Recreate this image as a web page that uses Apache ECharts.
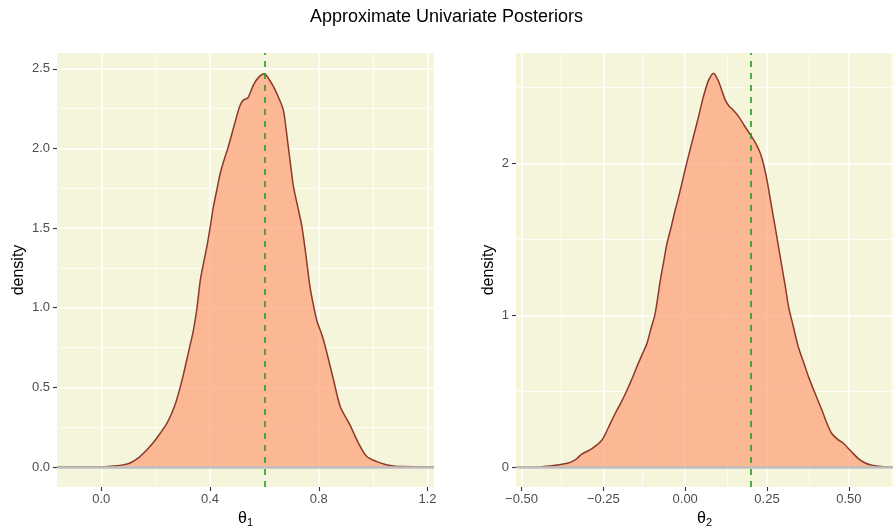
<!DOCTYPE html>
<html>
<head>
<meta charset="utf-8">
<script src="https://cdn.jsdelivr.net/npm/echarts@6/dist/echarts.min.js"></script>
<style>
  html, body { margin: 0; padding: 0; background: #fff; }
  #chart { width: 893px; height: 527px; }
</style>
</head>
<body>
<div id="chart"></div>
<script>
// theta_1 posterior density
const theta1X = [-0.163, 0.0, 0.045, 0.08, 0.106, 0.135, 0.167, 0.19, 0.216, 0.24, 0.259, 0.275, 0.29, 0.302,
  0.314, 0.326, 0.339, 0.352, 0.364, 0.376, 0.388, 0.4, 0.412, 0.425, 0.437, 0.452, 0.467, 0.488, 0.508, 0.52,
  0.529, 0.54, 0.56, 0.58, 0.6, 0.615, 0.633, 0.655, 0.67, 0.68, 0.688, 0.697, 0.707, 0.722, 0.738, 0.752,
  0.768, 0.78, 0.793, 0.817, 0.854, 0.879, 0.913, 0.946, 0.977, 1.014, 1.045, 1.075, 1.1, 1.224]
const theta1Density = [0, 0, 0.006, 0.013, 0.025, 0.055, 0.107, 0.15, 0.21, 0.27, 0.337, 0.41, 0.5, 0.58,
  0.67, 0.76, 0.86, 1.0, 1.17, 1.28, 1.38, 1.5, 1.63, 1.74, 1.84, 1.93, 2.01, 2.14, 2.26, 2.3,
  2.31, 2.32, 2.4, 2.45, 2.47, 2.44, 2.39, 2.31, 2.24, 2.12, 2.01, 1.89, 1.76, 1.64, 1.51, 1.34,
  1.13, 1.02, 0.92, 0.8, 0.55, 0.38, 0.27, 0.15, 0.065, 0.033, 0.015, 0.006, 0.002, 0]

// theta_2 posterior density
const theta2X = [-0.517, -0.448, -0.397, -0.357, -0.335, -0.316, -0.285, -0.255, -0.235, -0.214, -0.195,
  -0.178, -0.163, -0.148, -0.132, -0.117, -0.105, -0.092, -0.076, -0.066, -0.056, -0.043, -0.031, -0.02,
  -0.01, 0.002, 0.015, 0.028, 0.041, 0.051, 0.061, 0.072, 0.0866, 0.1, 0.112, 0.122, 0.133, 0.143, 0.163,
  0.182, 0.202, 0.216, 0.229, 0.24, 0.25, 0.262, 0.275, 0.29, 0.306, 0.316, 0.33, 0.346, 0.362, 0.377,
  0.398, 0.418, 0.433, 0.448, 0.465, 0.484, 0.509, 0.53, 0.55, 0.57, 0.591, 0.635]
const theta2Density = [0, 0.002, 0.013, 0.028, 0.05, 0.086, 0.123, 0.178, 0.26, 0.354, 0.43,
  0.507, 0.58, 0.66, 0.74, 0.815, 0.91, 1.01, 1.23, 1.35, 1.47, 1.58, 1.69, 1.78,
  1.87, 1.98, 2.09, 2.2, 2.31, 2.4, 2.48, 2.55, 2.594, 2.55, 2.48, 2.42, 2.38, 2.36, 2.31,
  2.245, 2.18, 2.13, 2.07, 1.99, 1.89, 1.74, 1.58, 1.39, 1.19, 1.056, 0.93, 0.79, 0.69, 0.595,
  0.48, 0.375, 0.29, 0.222, 0.185, 0.156, 0.1, 0.055, 0.028, 0.014, 0.007, 0]

// true parameter values (dashed lines)
const trueValues = [0.6, 0.2]

// axis ranges and breaks
const xRange1 = [-0.163, 1.224]
const yRange1 = [-0.126, 2.6]
const xRange2 = [-0.517, 0.635]
const yRange2 = [-0.13, 2.727]
const xBreaks1 = [0.0, 0.4, 0.8, 1.2]
const xMinor1 = [0.2, 0.6, 1.0]
const yBreaks1 = [0.0, 0.5, 1.0, 1.5, 2.0, 2.5]
const yMinor1 = [0.25, 0.75, 1.25, 1.75, 2.25]
const xBreaks2 = [-0.5, -0.25, 0, 0.25, 0.5]
const xMinor2 = [-0.375, -0.125, 0.125, 0.375, 0.625]
const yBreaks2 = [0, 1, 2]
const yMinor2 = [0.5, 1.5, 2.5]

const tickColor = '#4d4d4d'
const panelFill = '#f5f5dc'

function xAxisOf(idx, range, breaks, fmt, sub) {
  return {
    type: 'value', gridIndex: idx, min: range[0], max: range[1],
    axisLine: {show: true, onZero: false, lineStyle: {color: 'rgba(0,0,0,0)', width: 0}},
    splitLine: {show: false},
    axisTick: {show: true, customValues: breaks, length: 4, lineStyle: {color: '#333', width: 1.1}},
    axisLabel: {customValues: breaks, color: tickColor, fontSize: 13, margin: 6, formatter: fmt,
      fontFamily: 'Liberation Sans'},
    name: '{t|θ}{s|' + sub + '}', nameLocation: 'middle', nameGap: 22,
    nameTextStyle: {rich: {
      t: {fontSize: 16, color: '#000', fontFamily: 'Liberation Sans'},
      s: {fontSize: 11, color: '#000', fontFamily: 'Liberation Sans', verticalAlign: 'bottom', padding: [8, 0, 0, 0]}
    }}
  }
}

function yAxisOf(idx, range, breaks, fmt, gap) {
  return {
    type: 'value', gridIndex: idx, min: range[0], max: range[1],
    axisLine: {show: true, onZero: false, lineStyle: {color: 'rgba(0,0,0,0)', width: 0}},
    splitLine: {show: false},
    axisTick: {show: true, customValues: breaks, length: 4, lineStyle: {color: '#333', width: 1.1}},
    axisLabel: {customValues: breaks, color: tickColor, fontSize: 13, margin: 7, formatter: fmt,
      fontFamily: 'Liberation Sans'},
    name: 'density', nameLocation: 'middle', nameGap: gap, nameRotate: 90,
    nameTextStyle: {fontSize: 16, color: '#000', fontFamily: 'Liberation Sans'}
  }
}

// white panel grid, drawn under the density
function gridSeries(idx, xMajor, xMin, yMajor, yMin) {
  let lines = []
  xMajor.forEach(v => lines.push({xAxis: v, lineStyle: {width: 1.5}}))
  xMin.forEach(v => lines.push({xAxis: v, lineStyle: {width: 0.8}}))
  yMajor.forEach(v => lines.push({yAxis: v, lineStyle: {width: 1.5}}))
  yMin.forEach(v => lines.push({yAxis: v, lineStyle: {width: 0.8}}))
  return {
    type: 'line', xAxisIndex: idx, yAxisIndex: idx, data: [], z: 1,
    markLine: {
      silent: true, symbol: 'none', z: 1, animation: false,
      label: {show: false},
      lineStyle: {color: '#ffffff', type: 'solid'},
      emphasis: {disabled: true},
      data: lines
    }
  }
}

function densitySeries(idx, xs, ys) {
  return {
    type: 'line', xAxisIndex: idx, yAxisIndex: idx, z: 3,
    data: xs.map((x, i) => [x, ys[i]]),
    smooth: 0.3, showSymbol: false, symbol: 'none',
    lineStyle: {color: '#8b3a2a', width: 1.5},
    areaStyle: {color: '#ffa07a', opacity: 0.72, origin: 0},
    emphasis: {disabled: true}
  }
}

function refSeries(idx, trueVal) {
  return {
    type: 'line', xAxisIndex: idx, yAxisIndex: idx, data: [], z: 5,
    markLine: {
      silent: true, symbol: 'none', z: 5, animation: false,
      label: {show: false},
      emphasis: {disabled: true},
      data: [
        {yAxis: 0, lineStyle: {color: '#bebebe', width: 2.5, type: 'solid'}},
        {xAxis: trueVal, lineStyle: {color: '#229a22', width: 1.6, type: [6, 6]}}
      ]
    }
  }
}

let chart = echarts.init(document.getElementById('chart'), null, {renderer: 'canvas'})
chart.setOption({
  animation: false,
  title: {
    text: 'Approximate Univariate Posteriors',
    left: 'center', top: 3,
    textStyle: {fontSize: 18, fontWeight: 'normal', color: '#000', fontFamily: 'Liberation Sans'}
  },
  grid: [
    {left: 57, right: 459, top: 53, bottom: 40, show: true, backgroundColor: panelFill, borderWidth: 0,
      containLabel: false, outerBoundsMode: 'none'},
    {left: 516, right: 0, top: 53, bottom: 40, show: true, backgroundColor: panelFill, borderWidth: 0,
      containLabel: false, outerBoundsMode: 'none'}
  ],
  xAxis: [
    xAxisOf(0, xRange1, xBreaks1, v => v.toFixed(1), '1'),
    xAxisOf(1, xRange2, xBreaks2, v => (v < 0 ? '\u2212' + (-v).toFixed(2) : v.toFixed(2)), '2')
  ],
  yAxis: [
    yAxisOf(0, yRange1, yBreaks1, v => v.toFixed(1), 30),
    yAxisOf(1, yRange2, yBreaks2, v => String(v), 19)
  ],
  series: [
    gridSeries(0, xBreaks1, xMinor1, yBreaks1, yMinor1),
    gridSeries(1, xBreaks2, xMinor2, yBreaks2, yMinor2),
    densitySeries(0, theta1X, theta1Density),
    densitySeries(1, theta2X, theta2Density),
    refSeries(0, trueValues[0]),
    refSeries(1, trueValues[1])
  ]
})
</script>
</body>
</html>
